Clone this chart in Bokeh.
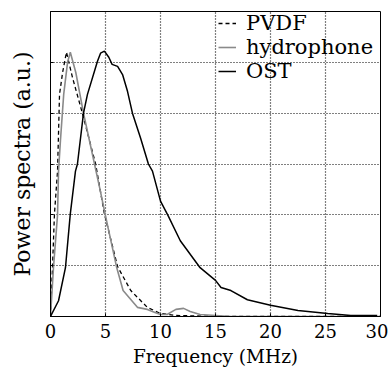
from bokeh.plotting import figure
from bokeh.models import Legend, LegendItem, FixedTicker, Range1d
from bokeh.embed import file_html
from bokeh.resources import INLINE

# Frequency (MHz) / power spectra (a.u.)
pvdf_f = [0, 0.18, 0.36, 0.64, 0.82, 1.1, 1.45, 2.0, 2.9, 4.1, 4.9, 6.1, 7.3, 8.8, 10.0, 11.4, 15.5, 30]
pvdf_v = [0, 0.96, 2.02, 2.86, 4.37, 4.8, 5.2, 4.7, 4.0, 3.0, 2.02, 0.98, 0.51, 0.18, 0.06, 0.02, 0.0, 0.0]

hyd_f = [0, 0.27, 0.64, 0.73, 0.9, 1.2, 1.55, 1.8, 2.3, 3.0, 4.0, 4.5, 5.0, 6.0, 6.6, 7.9, 8.8, 9.5, 10.0, 10.6, 11.4, 12.1, 12.7, 13.6, 15.0, 16.4, 30]
hyd_v = [0, 0.96, 2.0, 2.86, 3.45, 4.37, 5.0, 5.2, 4.8, 4.0, 3.0, 2.5, 1.98, 0.98, 0.51, 0.18, 0.14, 0.08, 0.04, 0.04, 0.14, 0.16, 0.1, 0.04, 0.02, 0.0, 0.0]

ost_f = [0, 0.73, 1.36, 1.8, 2.27, 2.45, 3.0, 3.36, 4.27, 4.55, 4.9, 5.3, 5.6, 6.1, 6.55, 7.0, 7.45, 8.2, 8.9, 9.27, 10.0, 10.7, 11.8, 13.6, 15.0, 15.5, 16.4, 17.9, 20.0, 22.5, 25.2, 27.3, 29.7]
ost_v = [0, 0.31, 0.96, 2.02, 2.86, 3.0, 4.0, 4.37, 5.02, 5.18, 5.22, 5.1, 4.96, 4.92, 4.76, 4.43, 4.0, 3.5, 3.0, 2.86, 2.27, 1.98, 1.49, 0.96, 0.71, 0.57, 0.51, 0.33, 0.22, 0.12, 0.06, 0.02, 0.02]

x_ticks = [0, 5, 10, 15, 20, 25, 30]
y_ticks = [0, 1, 2, 3, 4, 5, 6]

FONT = "DejaVu Serif"

p = figure(width=388, height=380, output_backend="svg", toolbar_location=None,
           x_range=Range1d(0, 30), y_range=Range1d(0, 6),
           min_border_left=50, min_border_right=8, min_border_top=11, min_border_bottom=64,
           x_axis_label="Frequency (MHz)", y_axis_label="Power spectra (a.u.)")
p.background_fill_color = "white"
p.border_fill_color = "white"
p.outline_line_color = "black"
p.outline_line_width = 1

for ax in p.xaxis:
    ax.ticker = FixedTicker(ticks=x_ticks)
    ax.major_tick_in = 3
    ax.major_tick_out = 0
    ax.minor_tick_in = 0
    ax.minor_tick_out = 0
    ax.major_label_text_font = FONT
    ax.major_label_text_font_size = "18px"
    ax.major_label_text_color = "black"
    ax.major_label_standoff = 7
    ax.axis_label_text_font = FONT
    ax.axis_label_text_font_size = "18.5px"
    ax.axis_label_text_font_style = "normal"
    ax.axis_label_text_color = "black"
    ax.axis_label_standoff = 5
    ax.axis_line_color = "black"

for ax in p.yaxis:
    ax.ticker = FixedTicker(ticks=y_ticks)
    ax.major_tick_in = 3
    ax.major_tick_out = 0
    ax.minor_tick_in = 0
    ax.minor_tick_out = 0
    ax.major_label_text_font_size = "1px"
    ax.major_label_text_color = None
    ax.major_label_standoff = 0
    ax.axis_label_text_font = FONT
    ax.axis_label_text_font_size = "22px"
    ax.axis_label_text_font_style = "normal"
    ax.axis_label_text_color = "black"
    ax.axis_label_standoff = 16
    ax.axis_line_color = "black"

p.xgrid.ticker = FixedTicker(ticks=x_ticks)
p.ygrid.ticker = FixedTicker(ticks=y_ticks)
for g in (p.xgrid, p.ygrid):
    g.grid_line_color = "black"
    g.grid_line_dash = "1 2"
    g.grid_line_width = 1.2
    g.grid_line_alpha = 1.0

r_pvdf = p.line(pvdf_f, pvdf_v, line_color="black", line_width=1.3, line_dash="4 3")
r_hyd = p.line(hyd_f, hyd_v, line_color="#8a8a8a", line_width=1.6)
r_ost = p.line(ost_f, ost_v, line_color="black", line_width=1.5)

legend = Legend(items=[LegendItem(label="PVDF", renderers=[r_pvdf]),
                       LegendItem(label="hydrophone", renderers=[r_hyd]),
                       LegendItem(label="OST", renderers=[r_ost])],
                location="top_right")
legend.label_text_font = FONT
legend.label_text_font_size = "21px"
legend.label_text_color = "black"
legend.border_line_color = None
legend.background_fill_alpha = 0
legend.glyph_width = 18
legend.glyph_height = 20
legend.label_height = 20
legend.label_width = 134
legend.label_standoff = 10
legend.spacing = -1
legend.margin = 0
legend.padding = 5
p.add_layout(legend)

open("out.html", "w").write(file_html(p, INLINE))
